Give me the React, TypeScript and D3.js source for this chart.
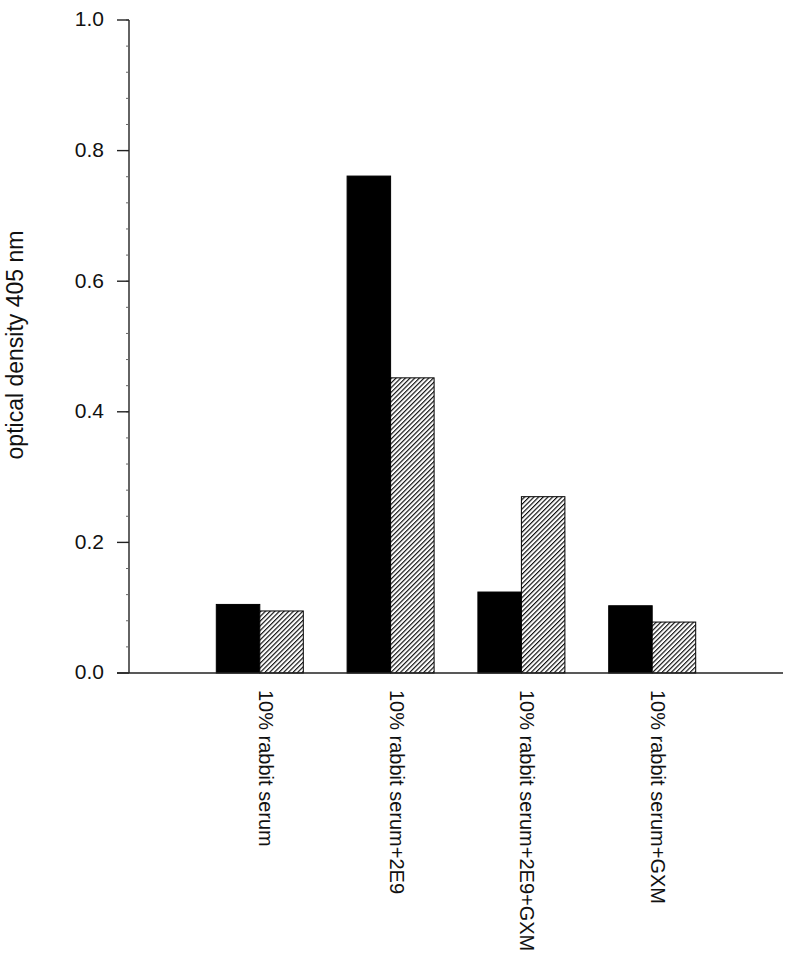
import { useEffect, useRef } from 'react';
import * as d3 from 'd3';

// categories and values
const categories = [
  '10% rabbit serum',
  '10% rabbit serum+2E9',
  '10% rabbit serum+2E9+GXM',
  '10% rabbit serum+GXM',
];
const seriesKeys = ['solid', 'hatched'];
const solidValues = [0.105, 0.761, 0.124, 0.103];
const hatchedValues = [0.095, 0.452, 0.27, 0.078];
const majorTicks = [0.0, 0.2, 0.4, 0.6, 0.8, 1.0];
const minorTicks = d3.range(0, 1.0001, 0.04);

export default function App() {
  const svgRef = useRef<SVGSVGElement | null>(null);

  useEffect(() => {
    if (!svgRef.current) return;
    const svg = d3.select(svgRef.current);
    svg.selectAll('*').remove();

    const font = '"Liberation Sans", Arial, Helvetica, sans-serif';
    const x0 = 129;
    const x1 = 783;
    const yTop = 20;
    const yBottom = 673;

    const y = d3.scaleLinear().domain([0, 1]).range([yBottom, yTop]);
    const x = d3.scalePoint<string>().domain(categories).range([x0, x1]).padding(1);
    const sub = d3.scaleBand<string>().domain(seriesKeys).range([-43.5, 43.5]).padding(0);

    // hatch pattern
    const defs = svg.append('defs');
    const pat = defs.append('pattern')
      .attr('id', 'hatch')
      .attr('patternUnits', 'userSpaceOnUse')
      .attr('width', 3.3)
      .attr('height', 10)
      .attr('patternTransform', 'rotate(45)');
    pat.append('rect').attr('width', 3.3).attr('height', 10).attr('fill', 'white');
    pat.append('line')
      .attr('x1', 0.6).attr('y1', 0).attr('x2', 0.6).attr('y2', 10)
      .attr('stroke', '#000').attr('stroke-width', 1.1);

    const rows = categories.map((c, i) => ({
      cat: c,
      vals: [
        { key: 'solid', v: solidValues[i] },
        { key: 'hatched', v: hatchedValues[i] },
      ],
    }));

    // bars
    const groups = svg.append('g').selectAll('g')
      .data(rows)
      .enter()
      .append('g')
      .attr('transform', d => `translate(${x(d.cat)},0)`);

    groups.selectAll('rect')
      .data(d => d.vals)
      .enter()
      .append('rect')
      .attr('x', d => sub(d.key)!)
      .attr('y', d => y(d.v))
      .attr('width', sub.bandwidth())
      .attr('height', d => yBottom - y(d.v))
      .attr('fill', d => (d.key === 'solid' ? '#000' : 'url(#hatch)'))
      .attr('stroke', '#000')
      .attr('stroke-width', 1);

    // axes lines
    svg.append('line')
      .attr('x1', x0).attr('x2', x0).attr('y1', yTop).attr('y2', yBottom)
      .attr('stroke', '#222').attr('stroke-width', 1.4);
    svg.append('line')
      .attr('x1', x0 - 12).attr('x2', x1).attr('y1', yBottom).attr('y2', yBottom)
      .attr('stroke', '#222').attr('stroke-width', 1.4);

    // minor ticks
    svg.append('g').selectAll('line')
      .data(minorTicks)
      .enter()
      .append('line')
      .attr('x1', x0 - 3).attr('x2', x0)
      .attr('y1', d => y(d)).attr('y2', d => y(d))
      .attr('stroke', '#666').attr('stroke-width', 1);

    // major ticks + labels
    const tk = svg.append('g').selectAll('g')
      .data(majorTicks)
      .enter()
      .append('g')
      .attr('transform', d => `translate(0,${y(d)})`);
    tk.append('line')
      .attr('x1', x0 - 12).attr('x2', x0)
      .attr('stroke', '#222').attr('stroke-width', 1.4);
    tk.append('text')
      .attr('x', 104)
      .attr('dy', '0.3em')
      .attr('text-anchor', 'end')
      .style('font-family', font)
      .style('font-size', '21px')
      .style('fill', '#111')
      .text(d => d3.format('.1f')(d));

    // category labels (rotated, reading downward)
    svg.append('g').selectAll('text')
      .data(categories)
      .enter()
      .append('text')
      .attr('transform', d => `translate(${x(d)! - 1},690) rotate(90)`)
      .attr('text-anchor', 'start')
      .style('font-family', font)
      .style('font-size', '20px')
      .style('fill', '#111')
      .text(d => d);

    // y title
    svg.append('text')
      .attr('transform', 'translate(23,345) rotate(-90)')
      .attr('text-anchor', 'middle')
      .style('font-family', font)
      .style('font-size', '23px')
      .style('fill', '#111')
      .text('optical density 405 nm');
  }, []);

  return (
    <div style={{ position: 'absolute', left: 0, top: 0, width: 800, height: 956, background: '#fff' }}>
      <svg ref={svgRef} width={800} height={956} />
    </div>
  );
}
